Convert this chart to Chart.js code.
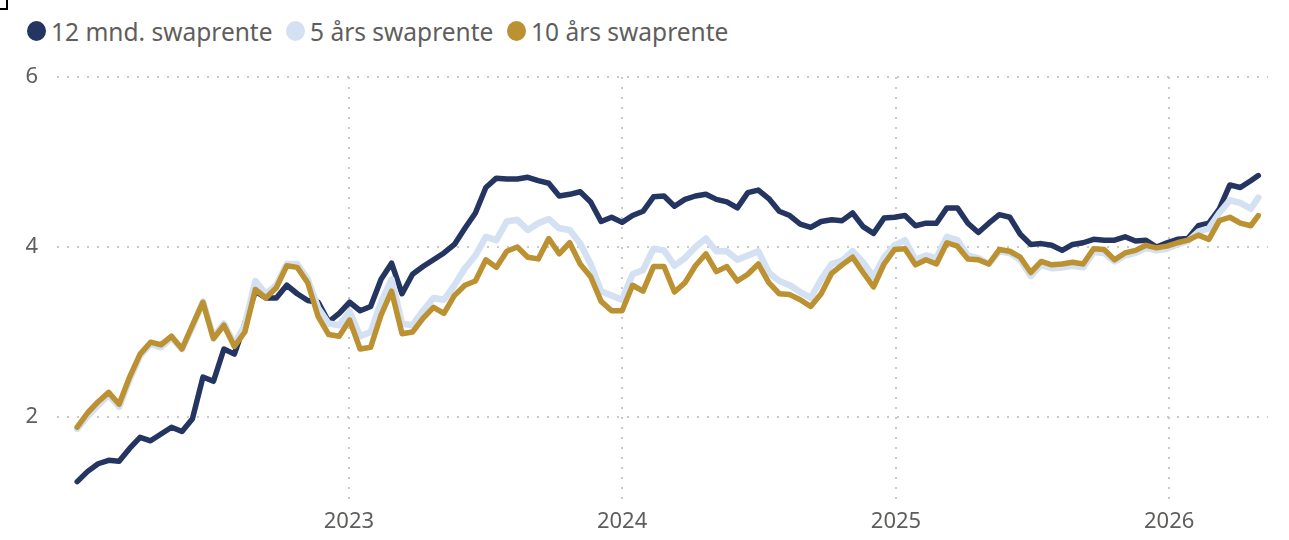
<!DOCTYPE html>
<html>
<head>
<meta charset="utf-8">
<script src="https://cdn.jsdelivr.net/npm/chart.js@4.4.1/dist/chart.umd.min.js"></script>
<style>
  html, body { margin: 0; padding: 0; background: #fff; }
  #wrap { position: relative; width: 1289px; height: 540px; overflow: hidden; }
  #corner { position: absolute; left: -2px; top: -2px; width: 8px; height: 10px;
            border-right: 2px solid #000; border-bottom: 2px solid #000; }
  .item { position: absolute; top: 16px; height: 30px; display: flex; align-items: center;
          font-family: "Noto Sans", "Open Sans", sans-serif; font-size: 24.5px; color: #605E5C; white-space: nowrap; }
  .dot { width: 19px; height: 20px; border-radius: 50%; margin-right: 5px; }
  canvas { position: absolute; left: 0; top: 0; }
</style>
</head>
<body>
<div id="wrap">
  <div id="corner"></div>
  <div id="legend"></div>
  <canvas id="chart" width="1289" height="540"></canvas>
</div>
<script>
// biweekly readings, 2022-01-03 .. 2026-04-30
const dates = [
  '2022-01-03','2022-01-17','2022-01-31','2022-02-14','2022-02-28','2022-03-14','2022-03-28','2022-04-11','2022-04-25',
  '2022-05-09','2022-05-23','2022-06-06','2022-06-20','2022-07-04','2022-07-18','2022-08-01','2022-08-15','2022-08-29',
  '2022-09-12','2022-09-26','2022-10-10','2022-10-24','2022-11-07','2022-11-21','2022-12-05','2022-12-19',
  '2023-01-02','2023-01-16','2023-01-30','2023-02-13','2023-02-27','2023-03-13','2023-03-27','2023-04-10','2023-04-24',
  '2023-05-08','2023-05-22','2023-06-05','2023-06-19','2023-07-03','2023-07-17','2023-07-31','2023-08-14','2023-08-28',
  '2023-09-11','2023-09-25','2023-10-09','2023-10-23','2023-11-06','2023-11-20','2023-12-04','2023-12-18',
  '2024-01-01','2024-01-15','2024-01-29','2024-02-12','2024-02-26','2024-03-11','2024-03-25','2024-04-08','2024-04-22',
  '2024-05-06','2024-05-20','2024-06-03','2024-06-17','2024-07-01','2024-07-15','2024-07-29','2024-08-12','2024-08-26',
  '2024-09-09','2024-09-23','2024-10-07','2024-10-21','2024-11-04','2024-11-18','2024-12-02','2024-12-16','2024-12-30',
  '2025-01-13','2025-01-27','2025-02-10','2025-02-24','2025-03-10','2025-03-24','2025-04-07','2025-04-21','2025-05-05',
  '2025-05-19','2025-06-02','2025-06-16','2025-06-30','2025-07-14','2025-07-28','2025-08-11','2025-08-25','2025-09-08',
  '2025-09-22','2025-10-06','2025-10-20','2025-11-03','2025-11-17','2025-12-01','2025-12-15','2025-12-29',
  '2026-01-12','2026-01-26','2026-02-09','2026-02-23','2026-03-09','2026-03-23','2026-04-06','2026-04-20','2026-04-30'
];

const swap12m = [
  1.24,1.36,1.45,1.49,1.48,1.63,1.76,1.72,1.80,1.88,1.83,1.98,2.47,2.42,2.80,2.74,3.10,3.48,3.40,3.40,3.55,3.45,3.37,3.35,3.12,3.22,
  3.35,3.25,3.30,3.62,3.81,3.45,3.68,3.77,3.85,3.93,4.03,4.22,4.40,4.70,4.81,4.80,4.80,4.82,4.78,4.75,4.60,4.62,4.65,4.53,4.30,4.35,
  4.29,4.37,4.42,4.59,4.60,4.48,4.56,4.60,4.62,4.56,4.53,4.46,4.64,4.67,4.57,4.42,4.37,4.27,4.23,4.30,4.32,4.31,4.40,4.24,4.16,4.34,4.35,
  4.37,4.25,4.28,4.28,4.46,4.46,4.28,4.17,4.28,4.38,4.35,4.15,4.03,4.04,4.02,3.96,4.03,4.05,4.09,4.08,4.08,4.12,4.07,4.08,4.00,4.05,
  4.09,4.10,4.25,4.28,4.45,4.73,4.70,4.78,4.84
];

const swap5y = [
  1.86,2.01,2.14,2.26,2.12,2.44,2.72,2.86,2.82,2.93,2.80,3.06,3.36,2.94,3.10,2.86,3.08,3.60,3.45,3.55,3.80,3.80,3.62,3.28,3.10,3.08,
  3.24,2.95,3.00,3.35,3.62,3.10,3.08,3.25,3.40,3.38,3.55,3.75,3.90,4.12,4.08,4.30,4.32,4.20,4.28,4.33,4.22,4.20,4.04,3.80,3.48,3.43,
  3.38,3.68,3.73,3.98,3.96,3.78,3.87,4.00,4.10,3.95,3.95,3.85,3.90,3.95,3.70,3.60,3.55,3.47,3.40,3.62,3.80,3.84,3.95,3.82,3.65,3.88,4.02,
  4.08,3.85,3.90,3.87,4.12,4.08,3.90,3.87,3.80,3.95,3.93,3.85,3.66,3.79,3.75,3.76,3.78,3.76,3.94,3.93,3.83,3.90,3.93,3.99,3.96,3.98,
  4.03,4.07,4.18,4.22,4.40,4.55,4.52,4.45,4.58
];

const swap10y = [
  1.88,2.05,2.18,2.29,2.15,2.47,2.74,2.88,2.85,2.95,2.80,3.08,3.35,2.92,3.08,2.83,3.00,3.50,3.40,3.52,3.78,3.76,3.58,3.18,2.97,2.95,
  3.14,2.80,2.82,3.20,3.48,2.98,3.00,3.16,3.29,3.22,3.43,3.55,3.60,3.85,3.76,3.95,4.00,3.88,3.86,4.10,3.92,4.05,3.80,3.65,3.36,3.25,
  3.25,3.55,3.48,3.77,3.77,3.47,3.58,3.78,3.92,3.71,3.77,3.60,3.68,3.80,3.58,3.45,3.44,3.38,3.30,3.45,3.69,3.79,3.88,3.70,3.53,3.80,3.97,
  3.98,3.79,3.85,3.80,4.05,4.01,3.86,3.85,3.80,3.97,3.95,3.88,3.70,3.83,3.79,3.80,3.82,3.80,3.98,3.97,3.85,3.93,3.96,4.02,3.99,4.01,
  4.05,4.08,4.14,4.09,4.31,4.35,4.28,4.25,4.37
];

const seriesNames = ['12 mnd. swaprente', '5 års swaprente', '10 års swaprente'];
const seriesColors = ['#233560', '#D3E1F2', '#BB9131'];
const yTicks = [2, 4, 6];
const yearTicks = ['2023-01-01', '2024-01-01', '2025-01-01', '2026-01-01'];

const day = s => Date.parse(s) / 864e5;
const points = vals => dates.map((d, i) => ({ x: day(d), y: vals[i] }));

// legend
const legendLeft = [27, 286, 507];
const legend = document.getElementById('legend');
seriesNames.forEach((name, i) => {
  const el = document.createElement('div');
  el.className = 'item';
  el.style.left = legendLeft[i] + 'px';
  el.innerHTML = '<span class="dot" style="background:' + seriesColors[i] + '"></span>' + name;
  legend.appendChild(el);
});

const tickFont = { family: '"Noto Sans", "Open Sans", sans-serif', size: 22 };
const gridStyle = { color: '#c9c9c9', lineWidth: 2, drawTicks: false };

new Chart(document.getElementById('chart'), {
  type: 'line',
  data: {
    datasets: [
      { label: seriesNames[0], data: points(swap12m), borderColor: seriesColors[0], order: 2 },
      { label: seriesNames[1], data: points(swap5y), borderColor: seriesColors[1], order: 1, borderWidth: 6.5 },
      { label: seriesNames[2], data: points(swap10y), borderColor: seriesColors[2], order: 0 }
    ]
  },
  options: {
    responsive: false,
    animation: false,
    layout: { padding: { top: 77, right: 21 } },
    elements: {
      point: { radius: 0 },
      line: { borderWidth: 5.5, tension: 0, borderJoinStyle: 'round', borderCapStyle: 'round' }
    },
    plugins: { legend: { display: false }, tooltip: { enabled: false } },
    scales: {
      x: {
        type: 'linear',
        min: day('2021-12-07'),
        max: day('2026-05-13'),
        afterBuildTicks: s => { s.ticks = yearTicks.map(d => ({ value: day(d) })); },
        afterFit: s => { s.height = 38; },
        ticks: {
          font: tickFont, color: '#605E5C', padding: 7, maxRotation: 0,
          callback: v => new Date(v * 864e5).getUTCFullYear()
        },
        grid: gridStyle,
        border: { display: false, dash: [2, 8] }
      },
      y: {
        min: 1,
        max: 6,
        afterBuildTicks: s => { s.ticks = yTicks.map(v => ({ value: v })); },
        afterFit: s => { s.width = 57; },
        ticks: { font: tickFont, color: '#605E5C', padding: 19 },
        grid: gridStyle,
        border: { display: false, dash: [2, 8] }
      }
    }
  }
});
</script>
</body>
</html>
